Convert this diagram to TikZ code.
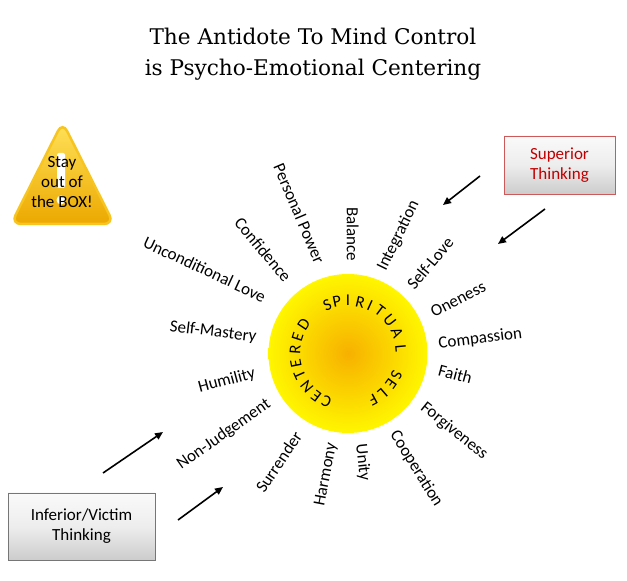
\documentclass[tikz,border=0pt]{standalone}
\usepackage{fontspec}
\setmainfont{Carlito}
\newfontfamily\titlefont{DejaVu Serif}
\definecolor{sunin}{RGB}{247,176,0}
\definecolor{sunout}{RGB}{255,246,0}
\definecolor{warntop}{RGB}{255,226,90}
\definecolor{warnbottom}{RGB}{236,168,0}
\definecolor{warnrim}{RGB}{248,196,30}
\definecolor{superborder}{RGB}{205,90,90}
\definecolor{supertext}{RGB}{192,0,0}
\definecolor{inferborder}{RGB}{118,118,118}
\usepackage{tikz}
\usetikzlibrary{positioning,arrows.meta}

\begin{document}
\begin{tikzpicture}[x=1pt,y=1pt,
    word/.style={inner sep=0pt, font=\fontsize{17}{20}\selectfont},
    ringletter/.style={inner sep=0pt, font=\fontsize{16.5}{16.5}\selectfont},
    thinkbox/.style={rectangle, minimum width=111pt, minimum height=58pt, align=center,
        top color=gray!4, bottom color=gray!40, middle color=gray!14,
        line width=0.8pt, font=\fontsize{17}{20}\selectfont},
    pusharrow/.style={line width=1.6pt, -{Triangle[length=8pt,width=7pt]}}]
    \useasboundingbox (0,0) rectangle (627,581);

    % title
    \node[font=\titlefont\fontsize{21.6}{31}\selectfont, align=center, inner sep=0pt] (title) at (313,527)
        {The Antidote To Mind Control\\is Psycho-Emotional Centering};

    % warning sign
    \draw[rounded corners=10pt, line width=2.5pt, draw=warnrim, top color=warntop, bottom color=warnbottom]
        (62.5,459) -- (11,357) -- (114,357) -- cycle;
    \fill[white, rounded corners=2pt] (57,393) rectangle (65,428);
    \fill[white] (61,381) circle (4.5);
    \node[word, align=center] (warn) at (62,399) {Stay\\out of\\the BOX!};

    % the sun
    \node[circle, minimum size=159pt, inner sep=0pt, inner color=sunin, outer color=sunout] (sun) at (348,227.5) {};
    \foreach \ch/\ang [count=\i] in {C/-114, E/-127, N/-141, T/-156, E/-169, R/176, E/162, D/146.5,
        S/113, P/102, I/90, R/76.6, I/65.5, T/53, U/38, A/22.5, L/5.5, S/-23.8, E/-35.6, L/-49, F/-61.7}
        \node[ringletter, rotate=\ang-90] (ring\i) at ([shift={(\ang:53)}]sun.center) {\ch};

    % rays, left half
    \node[word, anchor=east, rotate=-90] (balance) at ([shift={(87:92)}]sun.center) {Balance};
    \node[word, anchor=east, rotate=-67] (power) at ([shift={(107:95)}]sun.center) {Personal Power};
    \node[word, anchor=east, rotate=-50] (confidence) at ([shift={(129:95)}]sun.center) {Confidence};
    \node[word, anchor=east, rotate=-25] (love) at ([shift={(146:100)}]sun.center) {Unconditional Love};
    \node[word, anchor=east, rotate=-7] (mastery) at ([shift={(170:93)}]sun.center) {Self-Mastery};
    \node[word, anchor=east, rotate=15] (humility) at ([shift={(192:95)}]sun.center) {Humility};
    \node[word, anchor=east, rotate=35] (judgement) at ([shift={(212:93)}]sun.center) {Non-Judgement};
    \node[word, anchor=east, rotate=56] (surrender) at ([shift={(238:94)}]sun.center) {Surrender};
    \node[word, anchor=east, rotate=79] (harmony) at ([shift={(260:91)}]sun.center) {Harmony};
    % rays, right half
    \node[word, anchor=west, rotate=-84] (unity) at ([shift={(-82:91)}]sun.center) {Unity};
    \node[word, anchor=west, rotate=-58] (cooperation) at ([shift={(-60:91)}]sun.center) {Cooperation};
    \node[word, anchor=west, rotate=-39] (forgiveness) at ([shift={(-35:91)}]sun.center) {Forgiveness};
    \node[word, anchor=west, rotate=-15] (faith) at ([shift={(-10:92)}]sun.center) {Faith};
    \node[word, anchor=west, rotate=7] (compassion) at ([shift={(6:91)}]sun.center) {Compassion};
    \node[word, anchor=west, rotate=27] (oneness) at ([shift={(26:93)}]sun.center) {Oneness};
    \node[word, anchor=west, rotate=50] (selflove) at ([shift={(47:91)}]sun.center) {Self-Love};
    \node[word, anchor=west, rotate=64] (integration) at ([shift={(68:90)}]sun.center) {Integration};

    % thinking boxes
    \node[thinkbox, draw=superborder, text=supertext] (superior) at (559.5,416) {Superior\\Thinking};
    \node[thinkbox, draw=inferborder, minimum width=147pt, minimum height=67pt] (inferior) at (81.5,54.5)
        {Inferior/Victim\\Thinking};

    % arrows
    \coordinate (supA) at (480,405);
    \coordinate (supAend) at (443,376);
    \coordinate (supB) at (545,372);
    \coordinate (supBend) at (498,337);
    \coordinate (infA) at (103,108);
    \coordinate (infAend) at (163,149);
    \coordinate (infB) at (178,61);
    \coordinate (infBend) at (223,94);
    \draw[pusharrow] (supA) -- (supAend);
    \draw[pusharrow] (supB) -- (supBend);
    \draw[pusharrow] (infA) -- (infAend);
    \draw[pusharrow] (infB) -- (infBend);
\end{tikzpicture}
\end{document}
